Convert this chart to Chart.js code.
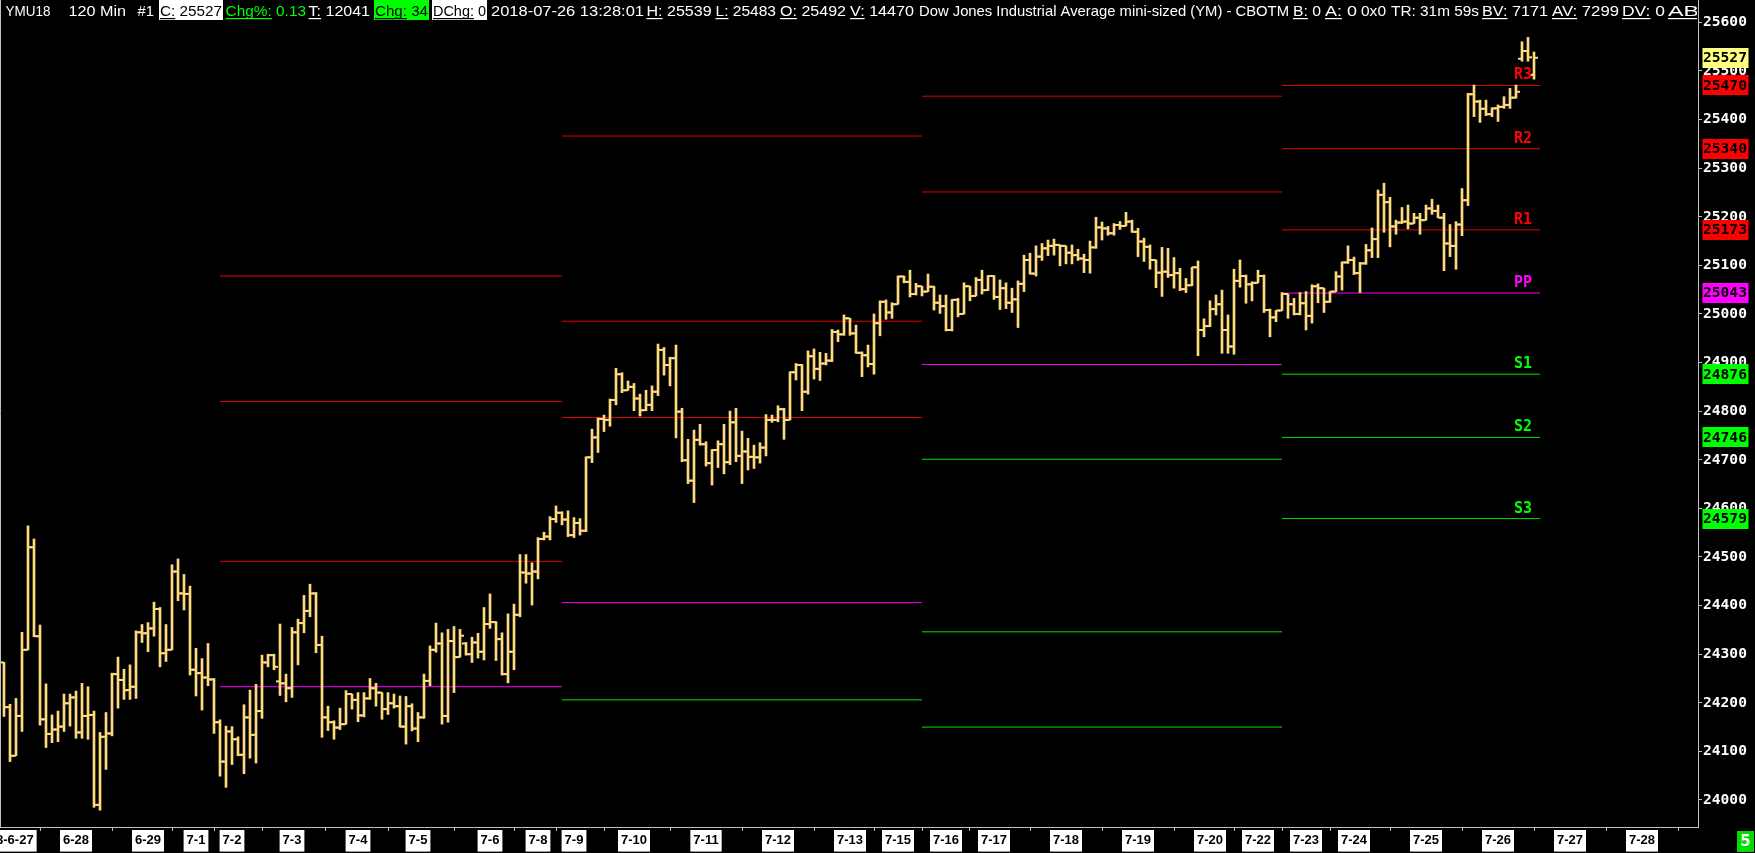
<!DOCTYPE html>
<html><head><meta charset="utf-8">
<script src="https://cdn.jsdelivr.net/npm/chart.js"></script>
<style>html,body{margin:0;padding:0;background:#000;overflow:hidden}</style>
</head><body>
<canvas id="c" width="1755" height="853"></canvas>
<script>
// ---- OHLC data (120-min bars, YMU18), bar index 0..255 ----
const OPEN=[24283,24191,24091,24173,24309,24520,24337,24166,24136,24145,24151,24199,24211,24139,24173,24175,23990,24130,24137,24259,24247,24226,24233,24345,24343,24353,24393,24302,24309,24470,24425,24424,24268,24261,24252,24248,24160,24079,24141,24125,24093,24170,24134,24183,24283,24298,24244,24240,24230,24345,24364,24389,24425,24319,24170,24160,24149,24156,24218,24206,24174,24209,24230,24221,24187,24199,24193,24151,24193,24147,24170,24245,24309,24322,24173,24327,24294,24322,24300,24324,24305,24362,24366,24331,24259,24305,24381,24468,24466,24470,24537,24542,24578,24591,24577,24545,24570,24554,24705,24746,24784,24782,24823,24876,24843,24850,24826,24802,24813,24840,24926,24895,24909,24799,24699,24657,24741,24732,24693,24720,24732,24695,24777,24708,24717,24706,24705,24725,24782,24782,24804,24782,24880,24895,24840,24913,24887,24898,24904,24963,24958,24991,24960,24920,24915,24897,24981,25025,25003,25020,25077,25066,25041,25057,25046,25056,25023,25016,24967,25029,25000,25057,25037,25070,25049,25078,25035,25053,25023,25030,25062,25111,25083,25118,25135,25140,25142,25140,25126,25121,25114,25111,25137,25178,25176,25166,25183,25181,25190,25169,25149,25138,25111,25085,25087,25080,25084,25051,25059,25096,24967,24975,25010,25020,24967,24933,25068,25078,25061,25064,25078,25008,24993,25007,25041,25020,25000,25022,24996,25057,25053,25025,25046,25077,25106,25111,25084,25104,25131,25154,25245,25230,25180,25188,25190,25186,25198,25193,25217,25212,25198,25145,25140,25184,25234,25452,25437,25422,25411,25423,25426,25430,25445,25525,25541,25492];
const HIGH=[24283,24197,24209,24345,24564,24537,24360,24239,24175,24183,24218,24218,24224,24240,24233,24183,24139,24180,24261,24294,24269,24278,24348,24361,24365,24407,24396,24361,24484,24496,24464,24440,24312,24291,24322,24250,24165,24152,24151,24130,24196,24226,24238,24298,24300,24300,24362,24259,24355,24372,24421,24444,24427,24337,24193,24163,24189,24225,24218,24221,24221,24250,24240,24221,24221,24218,24214,24213,24198,24180,24259,24317,24364,24344,24351,24357,24351,24324,24335,24343,24396,24424,24367,24344,24383,24403,24505,24505,24488,24540,24551,24583,24605,24593,24595,24581,24579,24706,24763,24786,24792,24825,24888,24879,24862,24857,24835,24843,24852,24938,24931,24911,24936,24806,24742,24761,24773,24737,24721,24739,24773,24800,24806,24759,24744,24730,24735,24793,24792,24811,24806,24881,24898,24896,24924,24928,24921,24919,24968,24967,24998,24991,24977,24922,24936,25000,25027,25029,25023,25078,25078,25090,25063,25057,25082,25057,25039,25039,25030,25032,25064,25057,25075,25090,25079,25079,25070,25064,25053,25068,25121,25125,25140,25145,25152,25154,25142,25140,25142,25133,25123,25150,25199,25189,25180,25186,25190,25209,25193,25176,25156,25142,25111,25137,25135,25116,25094,25073,25096,25109,24990,25027,25039,25049,24998,25092,25111,25080,25066,25090,25080,25010,25007,25044,25041,25032,25044,25046,25060,25062,25053,25046,25087,25107,25140,25117,25106,25143,25177,25255,25269,25240,25193,25219,25224,25207,25207,25224,25236,25224,25207,25184,25190,25258,25454,25471,25440,25440,25424,25430,25447,25464,25471,25560,25569,25539];
const LOW=[24172,24079,24091,24141,24309,24336,24154,24108,24118,24120,24141,24152,24127,24127,24125,23985,23979,24063,24132,24189,24207,24207,24209,24324,24305,24337,24274,24285,24309,24410,24391,24257,24214,24185,24235,24137,24049,24026,24073,24091,24054,24086,24076,24168,24274,24268,24215,24202,24211,24278,24344,24377,24303,24129,24143,24125,24145,24156,24187,24161,24171,24207,24193,24166,24176,24189,24150,24115,24142,24120,24168,24235,24304,24156,24160,24221,24294,24298,24283,24292,24288,24353,24287,24257,24241,24268,24377,24446,24401,24455,24535,24535,24571,24566,24542,24540,24545,24552,24694,24715,24758,24769,24813,24838,24843,24801,24790,24801,24801,24832,24874,24852,24745,24696,24651,24612,24730,24687,24648,24684,24671,24690,24696,24651,24679,24682,24693,24708,24777,24778,24742,24782,24864,24801,24835,24866,24863,24895,24902,24943,24956,24956,24919,24871,24891,24876,24955,24989,24991,25020,25064,25035,25039,25037,25046,25008,25001,24965,24965,24994,25000,25027,25037,25041,25048,25030,25009,25011,25003,24972,25046,25082,25078,25110,25120,25121,25099,25103,25103,25110,25085,25084,25135,25152,25162,25162,25174,25181,25168,25118,25108,25092,25054,25036,25075,25053,25048,25044,25058,24914,24953,24974,24998,24919,24919,24917,25055,25022,25027,25064,25003,24953,24984,25007,24991,24998,24998,24967,24981,25023,25003,25024,25046,25049,25104,25081,25044,25102,25116,25116,25168,25138,25164,25186,25175,25186,25164,25193,25205,25198,25089,25118,25092,25161,25223,25406,25394,25408,25406,25396,25423,25423,25444,25520,25520,25483];
const CLOSE=[24191,24091,24173,24309,24520,24337,24166,24136,24145,24151,24199,24211,24139,24173,24175,23990,24130,24137,24259,24247,24226,24233,24345,24343,24353,24393,24302,24309,24470,24425,24424,24268,24261,24252,24248,24160,24079,24141,24125,24093,24170,24134,24183,24283,24298,24274,24240,24230,24345,24364,24389,24425,24319,24170,24160,24149,24156,24218,24206,24174,24209,24230,24221,24187,24199,24193,24151,24193,24147,24170,24245,24309,24322,24173,24327,24294,24338,24300,24324,24305,24362,24366,24331,24259,24305,24381,24468,24466,24470,24537,24542,24578,24591,24577,24545,24570,24554,24705,24746,24784,24782,24823,24876,24843,24850,24826,24802,24813,24840,24926,24895,24909,24799,24699,24657,24741,24732,24693,24720,24732,24695,24777,24708,24717,24706,24705,24725,24782,24782,24804,24782,24880,24895,24840,24913,24887,24898,24904,24963,24958,24991,24960,24920,24915,24897,24981,25025,25003,25020,25077,25066,25041,25057,25046,25056,25023,25016,24967,25029,25000,25057,25037,25070,25049,25078,25035,25053,25023,25030,25062,25111,25083,25118,25135,25140,25142,25140,25126,25121,25114,25111,25137,25178,25176,25166,25183,25181,25190,25169,25149,25138,25111,25085,25087,25080,25084,25051,25059,25096,24967,24975,25010,25020,24967,24933,25068,25078,25061,25064,25078,25008,24993,25007,25041,25020,25000,25022,24996,25057,25053,25025,25046,25077,25106,25111,25084,25104,25131,25154,25245,25230,25180,25188,25190,25186,25198,25193,25217,25212,25198,25145,25140,25184,25234,25452,25437,25422,25411,25423,25426,25430,25445,25457,25541,25528,25527];

// ---- x axis: session start bar index and its date label ----
const DATE_IDX=[0,12,24,32,38,48,59,69,81,89,95,105,117,129,141,149,157,165,177,189,201,209,217,225,237,249,261,273];
const DATE_LABELS=['2018-6-27','6-28','6-29','7-1','7-2','7-3','7-4','7-5','7-6','7-8','7-9','7-10','7-11','7-12','7-13','7-15','7-16','7-17','7-18','7-19','7-20','7-22','7-23','7-24','7-25','7-26','7-27','7-28'];
const Y_TICKS=[24000,24100,24200,24300,24400,24500,24600,24700,24800,24900,25000,25100,25200,25300,25400,25500,25600];

// ---- weekly pivot levels (one value per week, null = off chart) ----
const WEEK_FROM=[36,93,153,213];
const WEEK_TO=[93,153,213,256];
const R3=[25078,25366,null,25470];
const R2=[24820,24985,25448,25340];
const R1=[24491,24787,25251,25173];
const PP=[24233,24406,24896,25043];
const S1=[null,24206,24701,24876];
const S2=[null,null,24346,24746];
const S3=[null,null,24150,24579];
const LEVEL_NAMES=['R3','R2','R1','PP','S1','S2','S3'];
const LEVEL_SETS=[R3,R2,R1,PP,S1,S2,S3];
const LAST_PRICE=25527;

const BAR_COLOR='#FFD980';
const RED_LINE='#E00000', MAG_LINE='#FF00FF', GRN_LINE='#00E000';
const LEVEL_TEXT=['#FF0000','#FF0000','#FF0000','#FF00FF','#00FF00','#00FF00','#00FF00'];
const TICK_OFF=1/3;

function segPoints(sets){
  const pts=[];
  sets.forEach(arr=>arr.forEach((v,w)=>{
    if(v==null) return;
    pts.push({x:WEEK_FROM[w],y:v},{x:WEEK_TO[w],y:v},{x:WEEK_TO[w],y:null});
  }));
  return pts;
}
const idx=OPEN.map((_,i)=>i);
const hlData=idx.map(i=>({x:i,y:[LOW[i],HIGH[i]]}));
const openData=idx.map(i=>({x:i-TICK_OFF,y:OPEN[i]}));
const closeData=idx.map(i=>({x:i+TICK_OFF,y:CLOSE[i]}));

const HEADER=[
 ['YMU18',5.6,50.5,'w',0],['120 Min',68.5,126,'w',0],['#1',137.5,154,'w',0],
 ['C: 25527',159,223,'bw',2],['Chg%: 0.13',225.6,306,'g',5],['T: 12041',308.6,370,'w',2],
 ['Chg: 34',374,429,'bg',4],['DChg: 0',432,487,'bw',5],['2018-07-26 13:28:01',491,644,'w',0],
 ['H: 25539',646.5,711.6,'w',2],['L: 25483',715.5,776,'w',2],['O: 25492',780,846,'w',2],['V: 14470',850,914,'w',2],
 ['Dow Jones Industrial Average mini-sized (YM) - CBOTM',919,1289,'w',0],['B: 0',1293,1321,'w',2],['A: 0',1325,1357,'w',2],
 ['0x0',1361,1386,'w',0],['TR: 31m 59s',1391,1479,'w',0],['BV: 7171',1482,1548,'w',3],['AV: 7299',1552,1619,'w',3],
 ['DV: 0',1622,1665,'w',3],['AB',1668,1699,'w',2]
];

const extras={
  id:'extras',
  afterDraw(chart){
    const {ctx,scales:{x,y},chartArea:ca}=chart;
    ctx.save();
    // left border
    ctx.strokeStyle='#C0C0C0';ctx.lineWidth=1;
    ctx.beginPath();ctx.moveTo(0.5,ca.top);ctx.lineTo(0.5,ca.bottom);ctx.stroke();
    // level labels of current week
    ctx.font='bold 15px "DejaVu Sans Mono"';ctx.textAlign='right';ctx.textBaseline='alphabetic';
    const xr=x.getPixelForValue(WEEK_TO[3])-8;
    LEVEL_SETS.forEach((arr,k)=>{
      const v=arr[3]; if(v==null) return;
      ctx.fillStyle=LEVEL_TEXT[k];
      ctx.fillText(LEVEL_NAMES[k],xr,y.getPixelForValue(v)-6);
    });
    // right axis value boxes
    const boxes=[[LAST_PRICE,'#FFFF80']].concat(LEVEL_SETS.map((a,k)=>[a[3],LEVEL_TEXT[k]]));
    ctx.font='bold 14.6px "DejaVu Sans Mono"';ctx.textAlign='left';ctx.textBaseline='middle';
    boxes.forEach(([v,c])=>{
      const py=y.getPixelForValue(v);
      ctx.fillStyle=c;ctx.fillRect(ca.right+4.5,Math.round(py)-10,46,20);
      ctx.fillStyle='#000';ctx.fillText(String(v),ca.right+5,py+0.5);
    });
    // header
    ctx.font='15px "Liberation Sans"';ctx.textAlign='left';ctx.textBaseline='alphabetic';
    HEADER.forEach(([t,x0,x1,st,ul])=>{
      let tx0=x0,tx1=x1;
      if(st==='bw'||st==='bg'){
        ctx.fillStyle=st==='bw'?'#FFFFFF':'#00FF00';
        ctx.fillRect(x0,0,x1-x0,20);
        tx0=x0+1;tx1=x1-1;
      }
      const w=ctx.measureText(t).width;
      const sx=(tx1-tx0)/w;
      const col=st==='w'?'#FFFFFF':(st==='g'?'#00FF00':'#000000');
      ctx.save();
      ctx.beginPath();ctx.rect(0,0,ca.right-1,24);ctx.clip();
      ctx.translate(tx0,16);ctx.scale(sx,1);
      ctx.fillStyle=col;ctx.fillText(t,0,0);
      if(ul>0){
        const uw=ctx.measureText(t.slice(0,ul)).width;
        ctx.fillRect(0,2,uw,1.2);
      }
      ctx.restore();
    });
    // corner box
    ctx.fillStyle='#00DD00';ctx.fillRect(1737,831,17,21);
    ctx.fillStyle='#FFFFFF';ctx.font='bold 15px "DejaVu Sans"';ctx.textAlign='center';ctx.textBaseline='middle';
    ctx.fillText('5',1745.5,842);
    ctx.restore();
  }
};

const X_MIN=-2/3, X_MAX=X_MIN+283;
const Y_MAX=25645.9, Y_MIN=23944.45;

new Chart(document.getElementById('c'),{
  type:'bar',
  data:{datasets:[
    {type:'line',data:segPoints([R3,R2,R1]),borderColor:RED_LINE,borderWidth:1,pointRadius:0,spanGaps:false,order:5},
    {type:'line',data:segPoints([PP]),borderColor:MAG_LINE,borderWidth:1,pointRadius:0,spanGaps:false,order:5},
    {type:'line',data:segPoints([S1,S2,S3]),borderColor:GRN_LINE,borderWidth:1,pointRadius:0,spanGaps:false,order:5},
    {type:'bar',data:hlData,backgroundColor:BAR_COLOR,borderWidth:0,barThickness:2,order:2},
    {type:'line',data:openData,showLine:false,pointStyle:'line',pointRadius:2,pointBorderWidth:2,pointBorderColor:BAR_COLOR,pointBackgroundColor:BAR_COLOR,order:1},
    {type:'line',data:closeData,showLine:false,pointStyle:'line',pointRadius:2,pointBorderWidth:2,pointBorderColor:BAR_COLOR,pointBackgroundColor:BAR_COLOR,order:1}
  ]},
  options:{
    responsive:false,animation:false,devicePixelRatio:1,events:[],
    layout:{padding:0,autoPadding:false},
    plugins:{legend:{display:false},tooltip:{enabled:false},title:{display:false}},
    scales:{
      x:{type:'linear',min:X_MIN,max:X_MAX,offset:false,position:'bottom',
        afterBuildTicks:s=>{s.ticks=DATE_IDX.map(v=>({value:v}));},
        afterFit:s=>{s.height=26;s.paddingLeft=0;s.paddingRight=0;},
        grid:{display:true,drawOnChartArea:false,drawTicks:true,tickLength:4,color:'#C0C0C0',lineWidth:1},
        border:{display:true,color:'#C0C0C0',width:1},
        ticks:{autoSkip:false,maxRotation:0,minRotation:0,padding:2,color:'#000000',
          font:{family:'Liberation Sans',size:13,weight:'bold'},
          showLabelBackdrop:true,backdropColor:'#FFFFFF',backdropPadding:{top:3,bottom:3,left:3,right:3},
          callback:(v,i)=>DATE_LABELS[i]}
      },
      y:{type:'linear',position:'right',min:Y_MIN,max:Y_MAX,
        afterBuildTicks:s=>{s.ticks=Y_TICKS.map(v=>({value:v}));},
        afterFit:s=>{s.width=57;s.paddingTop=0;s.paddingBottom=0;},
        grid:{display:true,drawOnChartArea:false,drawTicks:true,tickLength:4,color:'#C0C0C0',lineWidth:1},
        border:{display:true,color:'#C0C0C0',width:1},
        ticks:{color:'#FFFFFF',padding:1,font:{family:'DejaVu Sans Mono',size:14.6,weight:'bold'},callback:v=>String(v)}
      }
    }
  },
  plugins:[extras]
});
</script>
</body></html>
